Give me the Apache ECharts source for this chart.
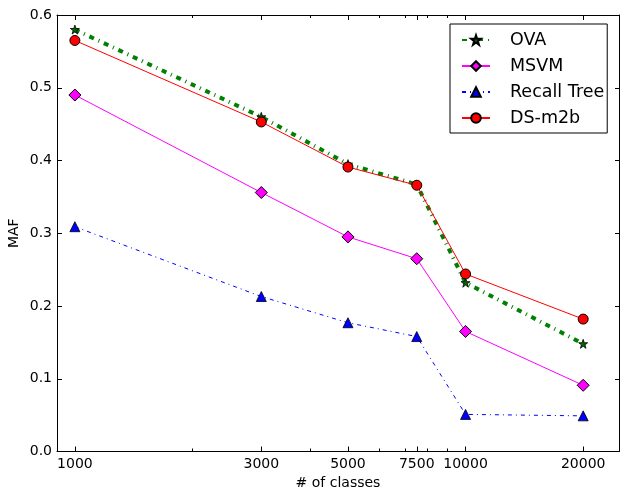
<!DOCTYPE html>
<html>
<head>
<meta charset="utf-8">
<script src="https://cdn.jsdelivr.net/npm/echarts@6/dist/echarts.min.js"></script>
<style>
html,body{margin:0;padding:0;background:#fff;}
#chart{width:620px;height:493px;}
</style>
</head>
<body>
<div id="chart"></div>
<script>
const classes = [1000, 3000, 5000, 7500, 10000, 20000];
const ova = [0.580, 0.460, 0.395, 0.367, 0.232, 0.148];
const msvm = [0.490, 0.356, 0.295, 0.265, 0.165, 0.091];
const recallTree = [0.309, 0.213, 0.177, 0.158, 0.051, 0.049];
const dsm2b = [0.565, 0.453, 0.391, 0.366, 0.244, 0.182];
const majorTicks = [1000, 3000, 5000, 7500, 10000, 20000];
const minorTicks = [2000, 4000, 6000, 7000, 8000, 9000];
const yTicks = [0.0, 0.1, 0.2, 0.3, 0.4, 0.5, 0.6];

const FONT = 'DejaVu Sans';
const toPairs = arr => classes.map((c, i) => [c, arr[i]]);
const starPath = 'path://M50,0 L61.8,35.3 L98.9,35.3 L69.1,57.1 L80.4,92.7 L50,70.9 L19.6,92.7 L30.9,57.1 L1.1,35.3 L38.2,35.3 Z';

const chart = echarts.init(document.getElementById('chart'), null, {renderer: 'canvas'});

const axisLine = {show: true, lineStyle: {color: '#000', width: 1}};
function xAx(pos, ticks, len, showLine, showLabel) {
  return {
    type: 'log', logBase: 10, min: 900, max: 24700, position: pos,
    axisLine: showLine ? axisLine : {show: false},
    axisTick: {show: true, inside: true, length: len, customValues: ticks, lineStyle: {color: '#000', width: 1}},
    axisLabel: showLabel ? {show: true, customValues: ticks, color: '#000', fontFamily: FONT, fontSize: 14, margin: 6, formatter: v => String(Math.round(v))} : {show: false},
    splitLine: {show: false}, minorTick: {show: false}
  };
}
const xAxes = [
  Object.assign(xAx('bottom', majorTicks, 5, true, true), {name: '# of classes', nameLocation: 'middle', nameGap: 25, nameTextStyle: {color: '#000', fontFamily: FONT, fontSize: 14}}),
  xAx('bottom', minorTicks, 3, false, false),
  xAx('top', majorTicks, 5, true, false),
  xAx('top', minorTicks, 3, false, false)
];

const option = {
  animation: false,
  backgroundColor: '#fff',
  grid: {left: 57, right: 1, top: 15, bottom: 41.5, containLabel: false, outerBoundsMode: 'none'},
  xAxis: xAxes,
  yAxis: [
    {type: 'value', min: 0, max: 0.6, interval: 0.1, position: 'left',
     axisLine: axisLine,
     axisTick: {show: true, inside: true, length: 5, lineStyle: {color: '#000'}},
     axisLabel: {color: '#000', fontFamily: FONT, fontSize: 14, margin: 5, formatter: v => v.toFixed(1)},
     splitLine: {show: false},
     name: 'MAF', nameLocation: 'middle', nameGap: 36, nameRotate: 90, nameMoveOverlap: false,
     nameTextStyle: {color: '#000', fontFamily: FONT, fontSize: 14}},
    {type: 'value', min: 0, max: 0.6, interval: 0.1, position: 'right',
     axisLine: axisLine,
     axisTick: {show: true, inside: true, length: 4, lineStyle: {color: '#000'}},
     axisLabel: {show: false}, splitLine: {show: false}}
  ],
  legend: {
    orient: 'vertical', left: 450, top: 24,
    backgroundColor: '#fff', borderColor: '#000', borderWidth: 1, borderRadius: 0,
    padding: [6, 3, 5, 11],
    itemWidth: 28, itemHeight: 12, itemGap: 6,
    textStyle: {color: '#000', fontFamily: FONT, fontSize: 17.5, lineHeight: 20, padding: [0, 0, 0, 15]},
    data: ['OVA', 'MSVM', 'Recall Tree', 'DS-m2b']
  },
  series: [
    {name: 'OVA', type: 'line', data: toPairs(ova), z: 2,
     lineStyle: {color: '#008000', width: 4, type: [5, 5, 1, 5], cap: 'butt'},
     symbol: starPath, symbolSize: 9,
     itemStyle: {color: '#006400', borderColor: '#000', borderWidth: 0.8}},
    {name: 'MSVM', type: 'line', data: toPairs(msvm), z: 3,
     lineStyle: {color: '#ff00ff', width: 1},
     symbol: 'diamond', symbolSize: 12,
     itemStyle: {color: '#ff00ff', borderColor: '#000', borderWidth: 1}},
    {name: 'Recall Tree', type: 'line', data: toPairs(recallTree), z: 4,
     lineStyle: {color: '#0000ff', width: 1, type: [4, 4, 1, 4]},
     symbol: 'triangle', symbolSize: 10,
     itemStyle: {color: '#0000ff', borderColor: '#000', borderWidth: 0.8}},
    {name: 'DS-m2b', type: 'line', data: toPairs(dsm2b), z: 5,
     lineStyle: {color: '#ff0000', width: 1},
     symbol: 'circle', symbolSize: 10,
     itemStyle: {color: '#ff0000', borderColor: '#000', borderWidth: 1}}
  ]
};
option.series.forEach(s => { s.showAllSymbol = true; s.xAxisIndex = 0; s.yAxisIndex = 0; s.emphasis = {disabled: true}; });
chart.setOption(option);
</script>
</body>
</html>
